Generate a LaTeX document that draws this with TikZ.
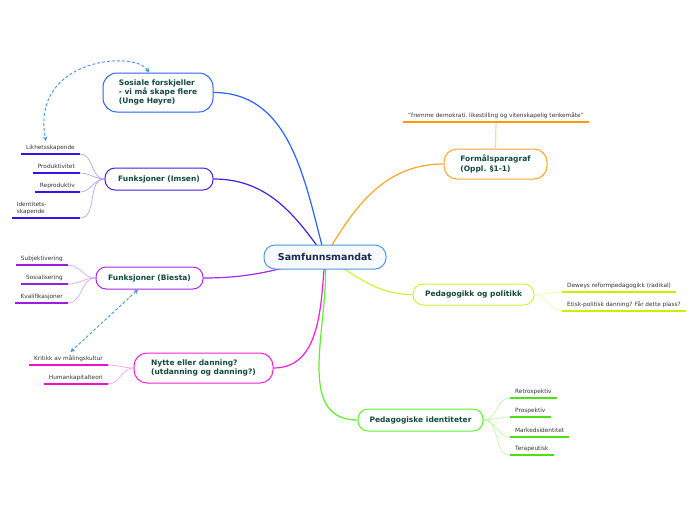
\documentclass[tikz,border=0pt]{standalone}
\usepackage{fontspec}
\setmainfont{DejaVu Sans}
\usetikzlibrary{arrows.meta}
\pgfdeclarelayer{bg}
\pgfsetlayers{bg,main}
\definecolor{cSos}{HTML}{2A62FF}
\definecolor{cIms}{HTML}{3F1FE8}
\definecolor{cBie}{HTML}{A52AE8}
\definecolor{cNyt}{HTML}{F01ED8}
\definecolor{cFor}{HTML}{FFA52A}
\definecolor{cPed}{HTML}{D2F23A}
\definecolor{cIde}{HTML}{5EF02A}
\definecolor{cCen}{HTML}{4F97D6}
\definecolor{cenfill}{HTML}{F6FAFE}
\definecolor{cenTxt}{HTML}{1B2A4E}
\definecolor{nodeTxt}{HTML}{134A3C}
\definecolor{leafTxt}{HTML}{333333}
\definecolor{arr}{HTML}{4A90E2}
\definecolor{uIms}{HTML}{3A0FF0}
\definecolor{uBie}{HTML}{9A1EE0}
\definecolor{uNyt}{HTML}{F010D0}
\definecolor{uFor}{HTML}{FF9A10}
\definecolor{uPed}{HTML}{C8F000}
\definecolor{uIde}{HTML}{4EE010}
\begin{document}
\begin{tikzpicture}[x=1pt,y=1pt,
  mainbox/.style={draw=#1, fill=white, line width=1pt, align=left, inner sep=0pt,
    font=\bfseries\fontsize{7.5}{9.3}\selectfont, text=nodeTxt},
  centerbox/.style={draw=cCen, fill=cenfill, line width=1pt, inner sep=0pt,
    rounded corners=11pt, minimum width=122pt, minimum height=24pt,
    font=\bfseries\fontsize{9.5}{11}\selectfont, text=cenTxt},
  leafcore/.style={font=\fontsize{5.8}{7}\selectfont, text=leafTxt, inner xsep=5pt,
    inner ysep=3.5pt, align=left,
    append after command={(\tikzlastnode.south west) edge[line width=1.6pt, draw=#1, line cap=butt] (\tikzlastnode.south east)}},
  leaf/.style={leafcore=#1, text height=4.4pt, text depth=1.2pt},
  conn/.style={draw=#1, line width=1.2pt},
  twig/.style={draw=#1!45, line width=0.6pt},
  dasharrow/.style={draw=arr, dash pattern=on 3pt off 2pt, line width=0.9pt,
    arrows={Stealth[length=4.5pt,width=4.5pt]-Stealth[length=4.5pt,width=4.5pt]}}
]
\useasboundingbox (0,0) rectangle (696,-520);

% central
\node[centerbox] (c) at (325,-257) {Samfunnsmandat};

% main nodes
\node[mainbox=cSos, rounded corners=14pt, minimum width=110pt, minimum height=39pt] (sos) at (158,-92.5)
  {Sosiale forskjeller\\- vi må skape flere\\(Unge Høyre)};
\node[mainbox=cIms, rounded corners=10pt, minimum width=108pt, minimum height=22pt] (ims) at (159,-179) {Funksjoner (Imsen)};
\node[mainbox=cBie, rounded corners=10pt, minimum width=107pt, minimum height=22pt] (bie) at (149.5,-278) {Funksjoner (Biesta)};
\node[mainbox=cNyt, rounded corners=13pt, minimum width=139pt, minimum height=30pt] (nyt) at (203.5,-368)
  {Nytte eller danning?\\(utdanning og danning?)};
\node[mainbox=cFor, rounded corners=13pt, minimum width=103pt, minimum height=30pt] (form) at (495.5,-164)
  {Formålsparagraf\\(Oppl. §1-1)};
\node[mainbox=cPed, rounded corners=10pt, minimum width=121pt, minimum height=21pt] (ped) at (473.5,-294.5) {Pedagogikk og politikk};
\node[mainbox=cIde, rounded corners=10pt, minimum width=125pt, minimum height=22pt] (ide) at (420.5,-420) {Pedagogiske identiteter};

% leaves: Imsen
\node[leaf=uIms, anchor=south east] (lik) at (80,-154) {Likhetsskapende};
\node[leaf=uIms, anchor=south east] (pro) at (80,-173) {Produktivitet};
\node[leaf=uIms, anchor=south east] (rep) at (80,-192) {Reproduktiv};
\node[leafcore=uIms, anchor=south east, text width=58pt] (idt) at (80,-218) {Identitets-\\skapende};
% leaves: Biesta
\node[leaf=uBie, anchor=south east] (sub) at (68,-265) {Subjektivering};
\node[leaf=uBie, anchor=south east] (sosi) at (68,-284) {Sosialisering};
\node[leaf=uBie, anchor=south east] (kva) at (68,-303) {Kvalifikasjoner};
% leaves: Nytte
\node[leaf=uNyt, anchor=south east] (kri) at (108,-365) {Kritikk av målingskultur};
\node[leaf=uNyt, anchor=south east] (hum) at (108,-384) {Humankapitalteori};
% leaf: Formål
\node[leaf=uFor, anchor=south, minimum width=186pt] (fp) at (496,-122) {"fremme demokrati, likestilling og vitenskapelig tenkemåte"};
% leaves: Pedagogikk
\node[leaf=uPed, anchor=south west] (dew) at (562,-292) {Deweys reformpedagogikk (radikal)};
\node[leaf=uPed, anchor=south west] (eti) at (562,-311) {Etisk-politisk danning? Får dette plass?};
% leaves: Identiteter
\node[leaf=uIde, anchor=south west] (ret) at (510,-398) {Retrospektiv};
\node[leaf=uIde, anchor=south west] (pros) at (510,-417) {Prospektiv};
\node[leaf=uIde, anchor=south west] (mar) at (510,-437) {Markedsidentitet};
\node[leaf=uIde, anchor=south west] (ter) at (510,-455) {Terapeutisk};

\begin{pgfonlayer}{bg}
  % main connectors
  \draw[conn=cSos] (sos.east) to[out=0,in=105] (c.center);
  \draw[conn=cIms] (ims.east) to[out=0,in=125] (c.center);
  \draw[conn=cBie] (bie.east) to[out=0,in=195] (c.center);
  \draw[conn=cNyt] (nyt.east) to[out=0,in=-95] (c.center);
  \draw[conn=cFor] (form.west) to[out=180,in=60] (c.center);
  \draw[conn=cPed] (ped.west) to[out=180,in=-30] (c.center);
  \draw[conn=cIde] (ide.west) to[out=180,in=-85] (c.center);
  % twigs
  \foreach \l in {lik,pro,rep,idt}
    \draw[twig=cIms] (\l.south east) to[out=0,in=180] (ims.west);
  \foreach \l in {sub,sosi,kva}
    \draw[twig=cBie] (\l.south east) to[out=0,in=180] (bie.west);
  \foreach \l in {kri,hum}
    \draw[twig=cNyt] (\l.south east) to[out=0,in=180] (nyt.west);
  \foreach \l in {dew,eti}
    \draw[twig=cPed] (ped.east) to[out=0,in=180] (\l.south west);
  \foreach \l in {ret,pros,mar,ter}
    \draw[twig=cIde] (ide.east) to[out=0,in=180] (\l.south west);
  \draw[draw=cFor!45, line width=1.2pt] (fp.south) -- (form.north);
\end{pgfonlayer}

% dashed relations
\draw[dasharrow] ([xshift=-9pt]sos.north) .. controls (135,-50) and (30,-58) .. ([xshift=-4.5pt]lik.north);
\draw[dasharrow] ([xshift=-11.5pt]bie.south) -- ([xshift=2pt]kri.north);
\end{tikzpicture}
\end{document}
